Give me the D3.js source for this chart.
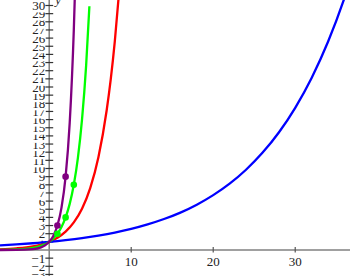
<!DOCTYPE html>
<html><head><meta charset="utf-8">
<script src="https://cdn.jsdelivr.net/npm/d3@7"></script>
<style>html,body{margin:0;padding:0;background:#fff;overflow:hidden}svg{display:block}</style>
</head><body>
<script>
// Values
const blueX   = [-6,-4,-2,0,2,4,6,8,10,12,14,16,18,20,22,24,26,28,30,32,34,36,37];
const blueY   = [0.56,0.68,0.83,1,1.21,1.46,1.77,2.14,2.59,3.14,3.8,4.59,5.56,6.73,8.14,9.85,11.92,14.42,17.45,21.11,25.55,30.91,34.0];
const redX    = [-6,-4,-2,-1,0,1,2,3,4,5,6,7,7.5,8,8.5,9];
const redY    = [0.088,0.2,0.44,0.67,1,1.5,2.25,3.38,5.06,7.59,11.39,17.09,20.9,25.6,31.4,38.4];
const greenX  = [-6,-4,-2,-1,0,0.5,1,1.5,2,2.5,3,3.5,4,4.5,4.9];
const greenY  = [0.016,0.06,0.25,0.5,1,1.41,2,2.83,4,5.66,8,11.3,16,22.6,29.9];
const purpleX = [-6,-4,-2,-1,-0.5,0,0.5,1,1.5,2,2.5,3,3.2];
const purpleY = [0.0014,0.012,0.11,0.33,0.58,1,1.73,3,5.2,9,15.6,27,33.6];
const greenDotsX  = [1,2,3];
const greenDotsY  = [2,4,8];
const purpleDotsX = [1,2];
const purpleDotsY = [3,9];
const xTickValues = [10,20,30];
const yTickValues = d3.range(-3,31);

const W = 350, H = 276;
const x = d3.scaleLinear().domain([-6, 36.68]).range([0, W]);
const y = d3.scaleLinear().domain([0, 30]).range([250, 5.5]);

const svg = d3.select("body").append("svg").attr("width", W).attr("height", H);
const axisColor = "#808080";
const font = "'Liberation Serif','Times New Roman',serif";

// x axis line
svg.append("line").attr("x1",0).attr("x2",W).attr("y1",y(0)).attr("y2",y(0))
  .attr("stroke",axisColor).attr("stroke-width",1.5);
// y axis line
svg.append("line").attr("x1",x(0)).attr("x2",x(0)).attr("y1",0).attr("y2",H)
  .attr("stroke",axisColor).attr("stroke-width",1.5);

// x ticks
const xt = svg.append("g");
xTickValues.forEach(v => {
  xt.append("line").attr("x1",x(v)).attr("x2",x(v)).attr("y1",y(0)-3).attr("y2",y(0)+2.5)
    .attr("stroke","#555").attr("stroke-width",1.2);
  xt.append("text").attr("x",x(v)).attr("y",y(0)+16).attr("text-anchor","middle")
    .attr("font-family",font).attr("font-size",13).attr("fill","#222").text(v);
});

// y ticks (drawn bottom to top, each label on a white box)
const yt = svg.append("g");
yTickValues.forEach(v => {
  if (v === 0) return;
  yt.append("line").attr("x1",x(0)-4).attr("x2",x(0)+4).attr("y1",y(v)).attr("y2",y(v))
    .attr("stroke","#333").attr("stroke-width",1.2);
  const g = yt.append("g");
  const t = g.append("text").attr("x",x(0)-4).attr("y",y(v)+4.5).attr("text-anchor","end")
    .attr("font-family",font).attr("font-size",13).attr("fill","#222").text(v < 0 ? "\u2212" + (-v) : v);
  const bb = t.node().getBBox();
  g.insert("rect","text").attr("x",bb.x).attr("y",bb.y+1.5).attr("width",bb.width).attr("height",bb.height-2)
    .attr("fill","#fff");
});
svg.append("text").attr("x",x(0)+6).attr("y",4).attr("font-family",font).attr("font-style","italic")
  .attr("font-size",13).attr("fill","#222").text("y");

const line = d3.line().x(d => x(d[0])).y(d => y(d[1])).curve(d3.curveMonotoneX);
const zip = (a,b) => a.map((v,i) => [v,b[i]]);
const curves = [
  {xs: redX, ys: redY, c: "#ff0000"},
  {xs: blueX, ys: blueY, c: "#0000ff"},
  {xs: greenX, ys: greenY, c: "#00ff00"},
  {xs: purpleX, ys: purpleY, c: "#800080"}
];
curves.forEach(s => {
  svg.append("path").attr("d", line(zip(s.xs, s.ys))).attr("fill","none")
    .attr("stroke", s.c).attr("stroke-width", 2.3).attr("stroke-linejoin","round");
});
zip(greenDotsX, greenDotsY).forEach(d => {
  svg.append("circle").attr("cx",x(d[0])).attr("cy",y(d[1])).attr("r",3.3).attr("fill","#00ff00");
});
zip(purpleDotsX, purpleDotsY).forEach(d => {
  svg.append("circle").attr("cx",x(d[0])).attr("cy",y(d[1])).attr("r",3.3).attr("fill","#800080");
});
</script>
</body></html>
